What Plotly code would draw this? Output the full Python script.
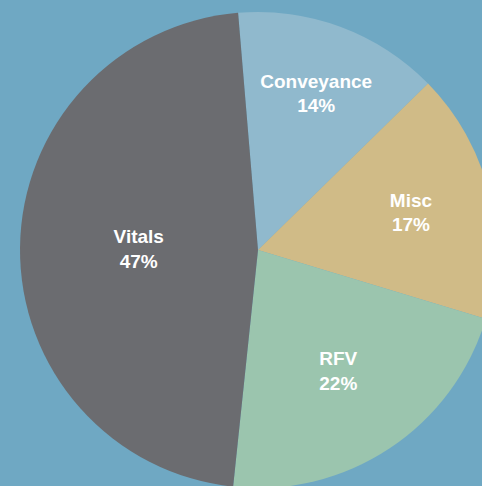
import plotly.graph_objects as go

labels = ["Conveyance", "Misc", "RFV", "Vitals"]
values = [14, 17, 22, 47]
colors = ["#90b9cd", "#d0bb87", "#9bc5ae", "#6b6c70"]

W, H = 500, 500
cx, cy, r = 258, 250, 238

fig = go.Figure(go.Pie(
    labels=labels,
    values=values,
    sort=False,
    direction="clockwise",
    rotation=-4.8,
    marker=dict(colors=colors, line=dict(width=0)),
    texttemplate="%{label}<br>%{percent:.0%}",
    textposition="inside",
    insidetextorientation="horizontal",
    textfont=dict(family="Liberation Sans", size=19, color="white", weight="bold"),
    hoverinfo="label+percent",
    showlegend=False,
    domain=dict(x=[(cx - r) / W, (cx + r) / W],
                y=[(H - cy - r) / H, (H - cy + r) / H]),
))

fig.update_layout(
    width=W, height=H,
    margin=dict(l=0, r=0, t=0, b=0),
    paper_bgcolor="#6fa8c3",
    plot_bgcolor="#6fa8c3",
    uniformtext=dict(minsize=19, mode="show"),
)

fig.write_html("out.html", config={"displayModeBar": False}, post_script=(
    "document.body.style.margin='0';"
    "document.body.style.overflow='hidden';"
    "document.documentElement.style.overflow='hidden';"
    "document.body.style.background='#6fa8c3';"
))
